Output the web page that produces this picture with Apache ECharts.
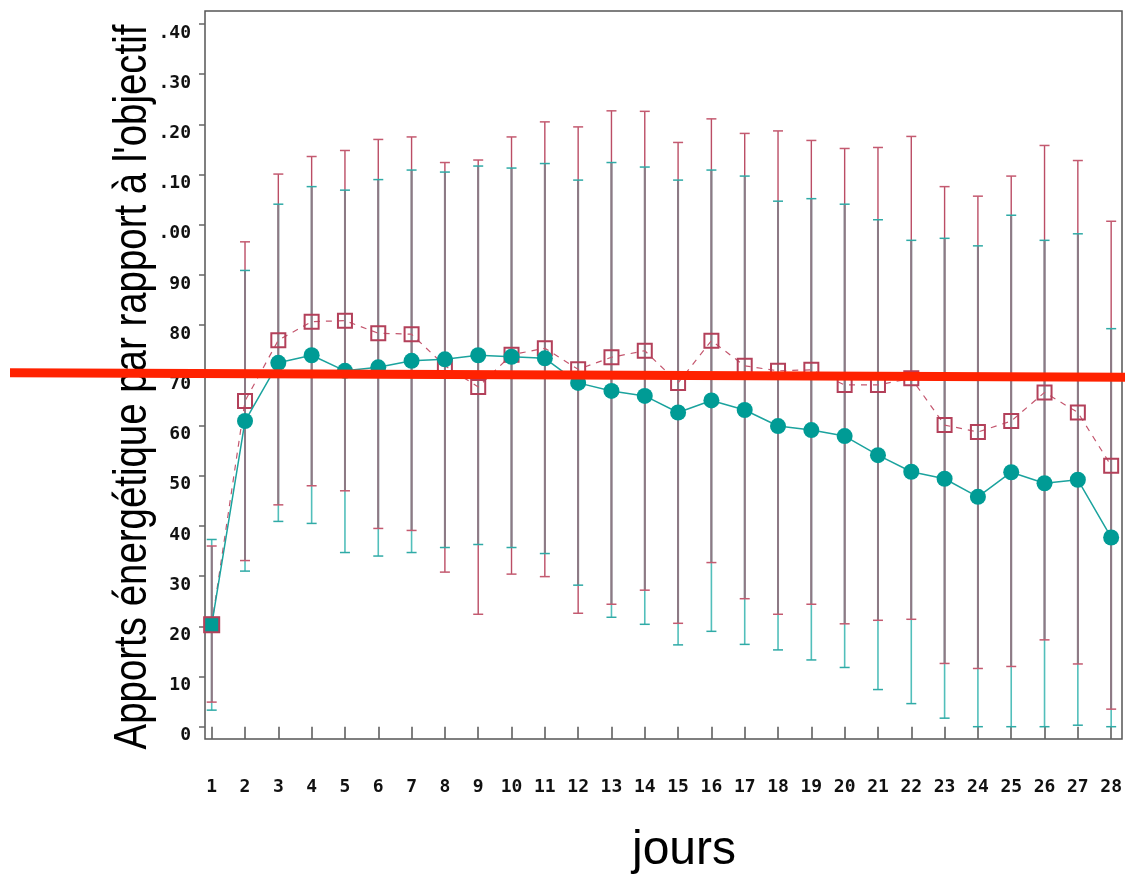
<!DOCTYPE html>
<html>
<head>
<meta charset="utf-8">
<script src="https://cdn.jsdelivr.net/npm/echarts@6/dist/echarts.min.js"></script>
<style>
  html, body { margin: 0; padding: 0; background: #fff; }
  #chart { width: 1125px; height: 876px; }
</style>
</head>
<body>
<div id="chart"></div>
<script>
// jours
const days = [1, 2, 3, 4, 5, 6, 7, 8, 9, 10, 11, 12, 13, 14, 15, 16, 17, 18, 19, 20, 21, 22, 23, 24, 25, 26, 27, 28]

// groupe turquoise (ronds pleins)
const tealMean = [20.3, 60.9, 72.5, 74.0, 70.9, 71.6, 72.9, 73.2, 74.0, 73.7, 73.4, 68.5, 66.9, 65.9, 62.6, 65.0, 63.1, 59.9, 59.1, 57.9, 54.1, 50.8, 49.4, 45.8, 50.7, 48.5, 49.2, 37.7]
const tealLow = [3.3, 31.0, 40.9, 40.5, 34.7, 34.0, 34.7, 35.7, 36.3, 35.7, 34.5, 28.2, 21.8, 20.4, 16.3, 19.0, 16.4, 15.3, 13.3, 11.8, 7.4, 4.6, 1.7, 0.0, 0.0, 0.0, 0.3, 0.0]
const tealHigh = [37.3, 90.9, 104.1, 107.6, 106.9, 109.0, 110.9, 110.5, 111.7, 111.3, 112.2, 108.9, 112.4, 111.5, 108.9, 110.9, 109.7, 104.7, 105.2, 104.1, 101.0, 96.9, 97.3, 95.8, 101.9, 96.9, 98.2, 79.3]

// groupe rouge (carrés vides, pointillés)
const redMean = [20.3, 64.9, 77.0, 80.7, 80.9, 78.4, 78.2, 71.9, 67.7, 74.1, 75.4, 71.2, 73.6, 74.9, 68.5, 76.9, 71.9, 70.9, 71.1, 68.1, 68.1, 69.4, 60.1, 58.7, 60.9, 66.6, 62.6, 52.0]
const redLow = [4.9, 33.1, 44.2, 48.0, 47.0, 39.5, 39.1, 30.8, 22.4, 30.4, 29.9, 22.6, 24.4, 27.2, 20.6, 32.7, 25.5, 22.4, 24.4, 20.5, 21.2, 21.4, 12.6, 11.6, 12.0, 17.3, 12.5, 3.5]
const redHigh = [36.0, 96.6, 110.1, 113.6, 114.8, 117.0, 117.5, 112.4, 112.9, 117.5, 120.5, 119.5, 122.7, 122.6, 116.4, 121.1, 118.2, 118.7, 116.8, 115.2, 115.4, 117.6, 107.6, 105.7, 109.7, 115.8, 112.8, 100.7]

// trait rouge ajouté à la main (objectif ~70), en jours / valeur
const targetLine = [[-5.02, 70.5], [28.27, 69.6]]

// étiquettes de l'axe Y telles qu'elles apparaissent (le "1" est coupé)
const yTickLabels = ['0', '10', '20', '30', '40', '50', '60', '70', '80', '90', '.00', '.10', '.20', '.30', '.40']

const TEAL = '#009b95'
const RED = '#b3405a'
const tickFont = { fontFamily: 'DejaVu Sans Mono', fontWeight: 'bold', fontSize: 18, color: '#111' }

const barData = days.map((d, i) => [d, tealLow[i], tealHigh[i], redLow[i], redHigh[i]])

function renderBars (params, api) {
  const x = api.coord([api.value(0), 0])[0]
  const y = (v) => api.coord([api.value(0), v])[1]
  const tl = api.value(1)
  const th = api.value(2)
  const rl = api.value(3)
  const rh = api.value(4)
  const seg = (a, b, color, w) => ({
    type: 'line',
    shape: { x1: x, y1: y(a), x2: x, y2: y(b) },
    style: { stroke: color, lineWidth: w }
  })
  const cap = (v, color) => ({
    type: 'line',
    shape: { x1: x - 5, y1: y(v), x2: x + 5, y2: y(v) },
    style: { stroke: color, lineWidth: 1.5 }
  })
  const children = [
    seg(tl, th, '#52bfbb', 1.6),
    seg(rl, rh, '#bb4d65', 1.4)
  ]
  // partie commune des deux barres : teinte grise
  const lo = Math.max(tl, rl)
  const hi = Math.min(th, rh)
  if (hi > lo) children.push(seg(lo, hi, '#8c7a85', 2))
  children.push(cap(tl, '#2faaa6'), cap(th, '#2faaa6'), cap(rl, '#c45a70'), cap(rh, '#c45a70'))
  return { type: 'group', children }
}

const chart = echarts.init(document.getElementById('chart'))
chart.setOption({
  animation: false,
  backgroundColor: '#fff',
  grid: [
    // zone de tracé (échelles)
    { left: 211.7, right: 9, top: 24, bottom: 149.3, show: false },
    // cadre
    { left: 205, right: 3, top: 11, bottom: 137, show: true, borderColor: '#555', borderWidth: 1.5, backgroundColor: 'transparent' },
    // calque pleine largeur pour le trait rouge
    { left: 10, right: 0, top: 24, bottom: 149.3, show: false }
  ],
  xAxis: [
    {
      type: 'value',
      gridIndex: 0,
      min: 1,
      max: 28,
      interval: 1,
      offset: 12.3,
      axisLine: { show: false },
      axisTick: { show: true, length: 12, lineStyle: { color: '#555', width: 1.5 } },
      axisLabel: Object.assign({ margin: 39, hideOverlap: false }, tickFont),
      splitLine: { show: false }
    },
    { type: 'value', gridIndex: 1, show: false },
    { type: 'value', gridIndex: 2, show: false, min: -5.02, max: 28.27 }
  ],
  yAxis: [
    {
      type: 'value',
      gridIndex: 0,
      min: 0,
      max: 140,
      interval: 10,
      offset: 6.7,
      axisLine: { show: false },
      axisTick: { show: true, length: 6, lineStyle: { color: '#666', width: 1.5 } },
      axisLabel: Object.assign({
        margin: 14,
        verticalAlign: 'top',
        formatter: (v) => yTickLabels[Math.round(v / 10)]
      }, tickFont),
      splitLine: { show: false }
    },
    { type: 'value', gridIndex: 1, show: false },
    { type: 'value', gridIndex: 2, show: false, min: 0, max: 140 }
  ],
  graphic: [
    {
      type: 'text',
      x: 133,
      y: 387,
      rotation: Math.PI / 2,
      scaleX: 0.835,
      style: {
        text: 'Apports énergétique par rapport à l\'objectif',
        fontFamily: 'Liberation Sans',
        fontSize: 46,
        fill: '#000',
        align: 'center',
        verticalAlign: 'middle',
        textAlign: 'center',
        textVerticalAlign: 'middle'
      }
    },
    {
      type: 'text',
      x: 684,
      y: 851,
      style: {
        text: 'jours',
        fontFamily: 'Liberation Sans',
        fontSize: 48,
        fill: '#000',
        align: 'center',
        verticalAlign: 'middle',
        textAlign: 'center',
        textVerticalAlign: 'middle'
      }
    }
  ],
  series: [
    {
      type: 'custom',
      xAxisIndex: 0,
      yAxisIndex: 0,
      renderItem: renderBars,
      encode: { x: 0, y: [1, 2, 3, 4] },
      data: barData,
      z: 1
    },
    {
      name: 'rouge',
      type: 'line',
      data: days.map((d, i) => [d, redMean[i]]),
      symbol: 'rect',
      symbolSize: 14,
      itemStyle: { color: 'transparent', borderColor: RED, borderWidth: 2 },
      lineStyle: { color: '#c4566e', width: 1.2, type: [6, 6] },
      z: 3
    },
    {
      name: 'turquoise',
      type: 'line',
      data: days.map((d, i) => {
        if (i === 0) {
          return { value: [d, tealMean[i]], symbol: 'rect', symbolSize: 15, itemStyle: { color: TEAL, borderColor: RED, borderWidth: 2 } }
        }
        return [d, tealMean[i]]
      }),
      symbol: 'circle',
      symbolSize: 16,
      itemStyle: { color: TEAL },
      lineStyle: { color: '#1ba39e', width: 1.5 },
      z: 4
    },
    {
      name: 'objectif',
      type: 'line',
      xAxisIndex: 2,
      yAxisIndex: 2,
      data: targetLine,
      clip: false,
      symbol: 'none',
      lineStyle: { color: '#ff2200', width: 9 },
      z: 10
    }
  ]
})
</script>
</body>
</html>
